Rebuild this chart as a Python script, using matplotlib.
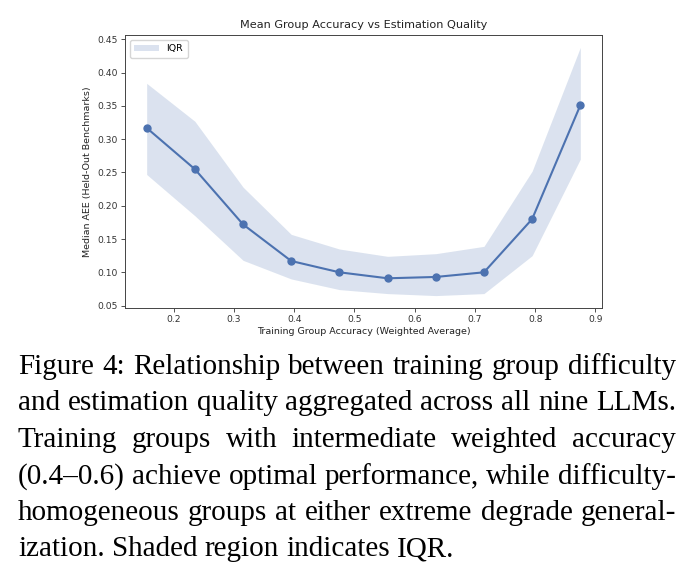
import numpy as np
import matplotlib.pyplot as plt

# Training group accuracy (weighted average) bins
group_acc = [0.155, 0.235, 0.315, 0.395, 0.475, 0.555, 0.635, 0.715, 0.795, 0.875]
# Median AEE on held-out benchmarks
median_aee = [0.317, 0.255, 0.172, 0.117, 0.100, 0.091, 0.093, 0.100, 0.180, 0.351]
# Interquartile range bounds
q25 = [0.247, 0.185, 0.118, 0.090, 0.074, 0.068, 0.065, 0.068, 0.125, 0.270]
q75 = [0.384, 0.327, 0.228, 0.157, 0.135, 0.124, 0.128, 0.139, 0.252, 0.438]

caption_lines = [
    "Figure 4: Relationship between training group difficulty",
    "and estimation quality aggregated across all nine LLMs.",
    "Training groups with intermediate weighted accuracy",
    "(0.4\u20130.6) achieve optimal performance, while difficulty-",
    "homogeneous groups at either extreme degrade general-",
    "ization. Shaded region indicates IQR.",
]

color = "#4c72b0"

fig = plt.figure(figsize=(6.92, 5.75), dpi=100)
ax = fig.add_axes([125 / 692, 1 - 308 / 575, (602 - 125) / 692, (308 - 35) / 575])

ax.fill_between(group_acc, q25, q75, color=color, alpha=0.2, linewidth=0, label="IQR")
ax.plot(group_acc, median_aee, "o-", color=color, linewidth=1.5, markersize=5)

ax.set_title("Mean Group Accuracy vs Estimation Quality", fontsize=8.1, color="#222222", pad=5)
ax.set_xlabel("Training Group Accuracy (Weighted Average)", fontsize=6.8, color="#222222", labelpad=2)
ax.set_ylabel("Median AEE (Held-Out Benchmarks)", fontsize=6.8, color="#222222", labelpad=4)
ax.tick_params(labelsize=6.6, colors="#333333", length=3, width=0.6, pad=2)
for s in ax.spines.values():
    s.set_linewidth(0.7)
    s.set_color("#444444")
ax.legend(loc="upper left", fontsize=6.8, frameon=True, handlelength=2.6, borderpad=0.5)

# justified caption below the chart
renderer = fig.canvas.get_renderer()
left_px, right_px = 18, 676
base_px, line_step = 374, 36.5

# pick the font size so the widest justified line just fits with normal spaces
probe = fig.text(0, 0, "", fontsize=10, family="Liberation Serif")
natural = []
for line in caption_lines[:-1]:
    probe.set_text(line)
    natural.append(probe.get_window_extent(renderer).width)
probe.remove()
fsize = 10 * (right_px - left_px) / max(natural)

for i, line in enumerate(caption_lines):
    words = line.split(" ")
    y = 1 - (base_px + i * line_step) / 575
    texts = [fig.text(0, y, w, fontsize=fsize, family="Liberation Serif", va="baseline", ha="left")
             for w in words]
    widths = [t.get_window_extent(renderer).width for t in texts]
    if i < len(caption_lines) - 1:
        gap = (right_px - left_px - sum(widths)) / (len(words) - 1)
    else:
        gap = fsize * 100 / 72 * 0.25
    x = left_px
    for t, w in zip(texts, widths):
        t.set_x(x / 692)
        x += w + gap

fig.savefig("out.png", dpi=100)
